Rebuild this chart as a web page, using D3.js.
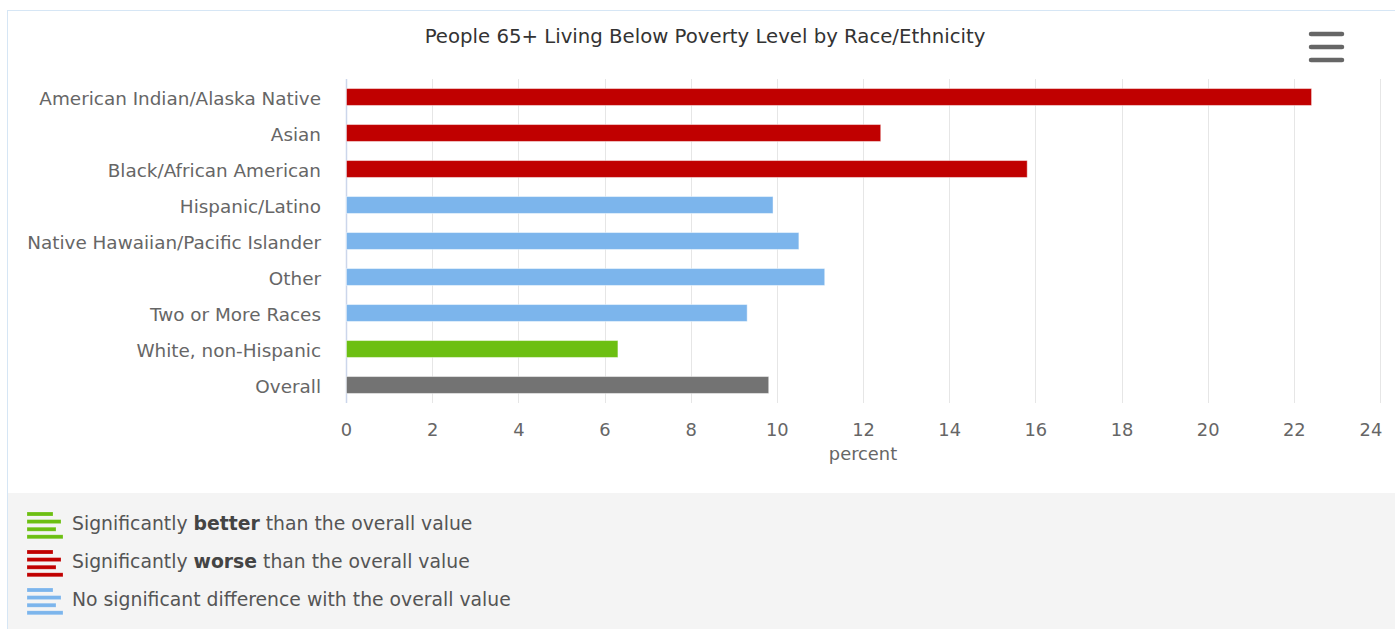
<!DOCTYPE html>
<html><head><meta charset="utf-8">
<script src="https://cdn.jsdelivr.net/npm/d3@7"></script>
<style>
html,body{margin:0;padding:0;background:#fff;}
svg{display:block;}
</style></head>
<body>
<svg id="c" width="1395" height="629"></svg>
<script>
const categories = ["American Indian/Alaska Native","Asian","Black/African American","Hispanic/Latino","Native Hawaiian/Pacific Islander","Other","Two or More Races","White, non-Hispanic","Overall"];
const values = [22.4, 12.4, 15.8, 9.9, 10.5, 11.1, 9.3, 6.3, 9.8];
const status = ["worse","worse","worse","none","none","none","none","better","overall"];
const xTicks = [0,2,4,6,8,10,12,14,16,18,20,22,24];
const title = "People 65+ Living Below Poverty Level by Race/Ethnicity";
const axisTitle = "percent";
const legendItems = [
  {key:"better", pre:"Significantly ", bold:"better", post:" than the overall value"},
  {key:"worse", pre:"Significantly ", bold:"worse", post:" than the overall value"},
  {key:"none", pre:"No significant difference with the overall value", bold:"", post:""}
];
const colors = {worse:"#c00000", none:"#7cb5ec", better:"#6cbf12", overall:"#737373"};

const FONT = "'DejaVu Sans', sans-serif";
const svg = d3.select("#c");

function fitSize(text, targetW, base, weight){
  const t = svg.append("text").attr("font-family",FONT).attr("font-size",base).attr("font-weight",weight||"normal").text(text);
  const w = t.node().getComputedTextLength(); t.remove();
  return base*targetW/w;
}
const labelSize = fitSize(categories[0], 282, 16);
const titleSize = fitSize(title, 561, 18);
const legendSize = fitSize("No significant difference with the overall value", 439, 17);
const tickSize = labelSize*0.97;

// container
svg.append("rect").attr("x",7.5).attr("y",10.5).attr("width",1400).attr("height",640)
  .attr("fill","#fff").attr("stroke","#d6e6f5");
svg.append("rect").attr("x",8).attr("y",493).attr("width",1395).attr("height",140).attr("fill","#f4f4f4");

const x = d3.scaleLinear().domain([0,24]).range([346,1380]);
const y = d3.scaleBand().domain(categories).range([79,403]).paddingInner(0.53).paddingOuter(0.265);

// grid
const g = svg.append("g");
g.selectAll("line.grid").data(xTicks.slice(1)).join("line")
  .attr("x1",d=>Math.round(x(d))+0.5).attr("x2",d=>Math.round(x(d))+0.5)
  .attr("y1",79).attr("y2",403).attr("stroke","#e6e6e6").attr("stroke-width",1);
g.append("line").attr("x1",346.5).attr("x2",346.5).attr("y1",79).attr("y2",403)
  .attr("stroke","#ccd6eb").attr("stroke-width",1.5);

// bars
g.selectAll("rect.bar").data(categories).join("rect")
  .attr("x",x(0)+0.5).attr("y",d=>y(d))
  .attr("width",(d,i)=>x(values[i])-x(0)).attr("height",y.bandwidth())
  .attr("fill",(d,i)=>colors[status[i]])
  .attr("stroke","rgba(255,255,255,0.45)").attr("stroke-width",1);

// category labels
g.selectAll("text.cat").data(categories).join("text")
  .attr("x",321).attr("y",d=>y(d)+y.bandwidth()/2+1.5).attr("dy","0.35em")
  .attr("text-anchor","end").attr("font-family",FONT).attr("font-size",labelSize)
  .attr("fill","#666").text(d=>d);

// x axis labels
const xAxis = d3.axisBottom(x).tickValues(xTicks).tickSize(0).tickPadding(0);
const ax = svg.append("g").attr("transform","translate(0,423)").call(xAxis);
ax.select(".domain").remove();
ax.selectAll("text").attr("font-family",FONT).attr("font-size",tickSize).attr("fill","#666")
  .attr("dy","0.71em");
ax.selectAll(".tick").filter(d=>d===24).select("text").attr("text-anchor","end").attr("dx","0.1em");

svg.append("text").attr("x",x(12)).attr("y",454).attr("dy","0.35em").attr("text-anchor","middle")
  .attr("font-family",FONT).attr("font-size",tickSize).attr("fill","#666").text(axisTitle);

// title
svg.append("text").attr("x",705).attr("y",36).attr("dy","0.35em").attr("text-anchor","middle")
  .attr("font-family",FONT).attr("font-size",titleSize).attr("fill","#333").text(title);

// menu icon
[34,47,60].forEach(yy=>{
  svg.append("line").attr("x1",1311).attr("x2",1342).attr("y1",yy).attr("y2",yy)
    .attr("stroke","#666").attr("stroke-width",4.5).attr("stroke-linecap","round");
});

// legend
const iconBars = [[0,26],[7.6,34],[15.2,29],[22.8,36]];
legendItems.forEach((it,i)=>{
  const cy = 523 + i*38;
  const top = cy-11;
  iconBars.forEach(([dy,w])=>{
    svg.append("rect").attr("x",27).attr("y",top+dy).attr("width",w).attr("height",4)
      .attr("fill",colors[it.key]).attr("stroke","rgba(255,255,255,0.35)").attr("stroke-width",0.6);
  });
  const t = svg.append("text").attr("x",72).attr("y",cy).attr("dy","0.35em")
    .attr("font-family",FONT).attr("font-size",legendSize).attr("fill","#555");
  t.append("tspan").text(it.pre);
  if(it.bold){ t.append("tspan").attr("font-weight","bold").attr("fill","#444").text(it.bold); t.append("tspan").text(it.post); }
});
</script>
</body></html>
